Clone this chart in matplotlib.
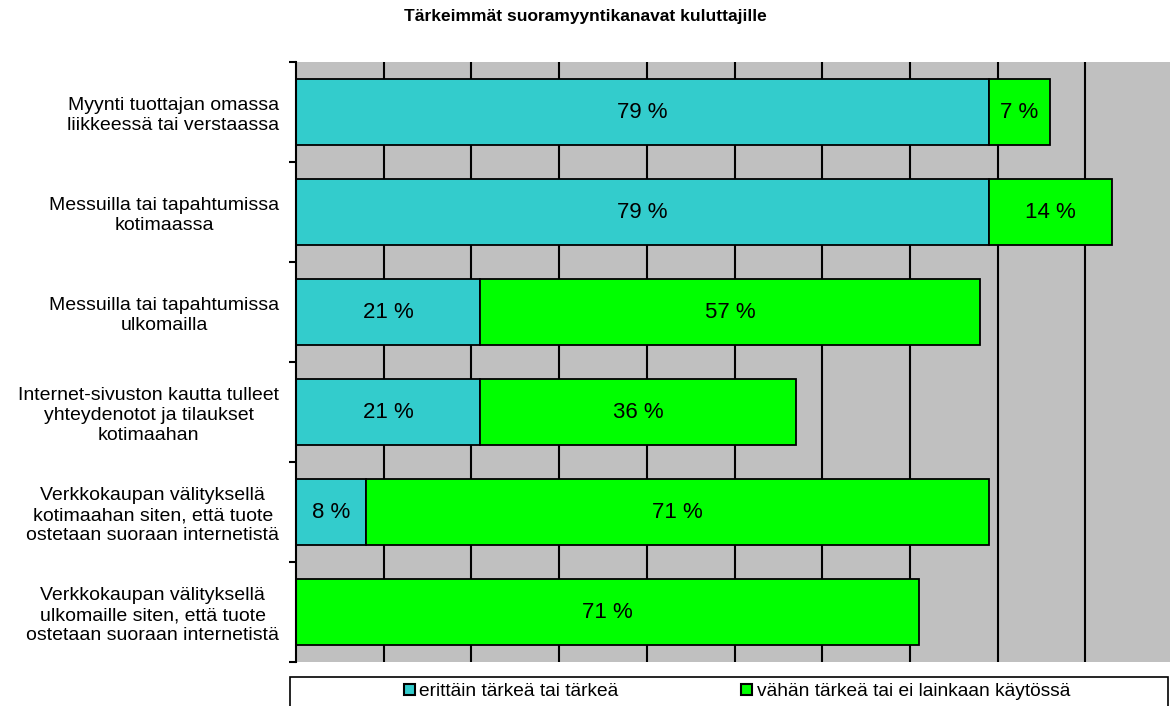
import matplotlib
matplotlib.use("Agg")
from matplotlib import pyplot as plt
from matplotlib.patches import Rectangle, Patch
import numpy as np

plt.rcParams["font.family"] = ["Liberation Sans", "DejaVu Sans"]

title = "Tärkeimmät suoramyyntikanavat kuluttajille"
categories = [
    "Myynti tuottajan omassa\nliikkeessä tai verstaassa",
    "Messuilla tai tapahtumissa\nkotimaassa",
    "Messuilla tai tapahtumissa\nulkomailla",
    "Internet-sivuston kautta tulleet\nyhteydenotot ja tilaukset\nkotimaahan",
    "Verkkokaupan välityksellä\nkotimaahan siten, että tuote\nostetaan suoraan internetistä",
    "Verkkokaupan välityksellä\nulkomaille siten, että tuote\nostetaan suoraan internetistä",
]
important = [79, 79, 21, 21, 8, 0]
less_important = [7, 14, 57, 36, 71, 71]
series_names = ["erittäin tärkeä tai tärkeä", "vähän tärkeä tai ei lainkaan käytössä"]
colors = ["#33CCCC", "#00FF00"]

W, H = 1170, 706
fig = plt.figure(figsize=(W / 100, H / 100), dpi=100)
ax = fig.add_axes([296 / W, 1 - 662 / H, 877 / W, 600 / H])
ax.set_facecolor("#C0C0C0")

y = np.arange(len(categories))
for xv in range(10, 100, 10):
    ax.axvline(xv, color="black", lw=1.5, zorder=1)

b1 = ax.barh(y, important, 0.66, color=colors[0], edgecolor="black", lw=1.3, zorder=2)
b2 = ax.barh(y, less_important, 0.66, left=important, color=colors[1], edgecolor="black", lw=1.3, zorder=2)
for vals, lefts in [(important, [0] * len(y)), (less_important, important)]:
    for yi, v, l in zip(y, vals, lefts):
        if v:
            ax.text(l + v / 2, yi, f"{v} %", ha="center", va="center", fontsize=16, zorder=3)

ax.set_xlim(0, 100)
ax.set_ylim(len(categories) - 0.5, -0.5)
ax.set_xticks([])
ax.set_yticks(y)
ax.set_yticklabels(categories, fontsize=14, multialignment="center", linespacing=1.25)
ax.set_yticks(np.arange(-0.5, len(categories)), minor=True)
ax.tick_params(axis="y", which="major", length=0, pad=12)
ax.tick_params(axis="y", which="minor", length=5, width=1.5, direction="out")
for s in ["top", "right", "bottom"]:
    ax.spines[s].set_visible(False)
ax.spines["left"].set_linewidth(1.5)

fig.text(0.5, 1 - 16 / H, title, ha="center", va="center", fontsize=12.5, fontweight="bold")

# legend box, cut off at the bottom like the original
fig.patches.append(Rectangle((290 / W, -0.05), 878 / W, 0.05 + 1 - 677 / H,
                             transform=fig.transFigure, facecolor="white",
                             edgecolor="black", lw=1.2))
handles = [Patch(facecolor=c, edgecolor="black", lw=1.5) for c in colors]
fig.legend(handles, series_names, loc="center left", bbox_to_anchor=(404 / W, 1 - 692 / H),
           ncol=2, frameon=False, fontsize=13.8, handlelength=0.55, handleheight=0.55,
           handletextpad=0.25, columnspacing=6.4, borderpad=0, borderaxespad=0)

fig.savefig("out.png", dpi=100)
